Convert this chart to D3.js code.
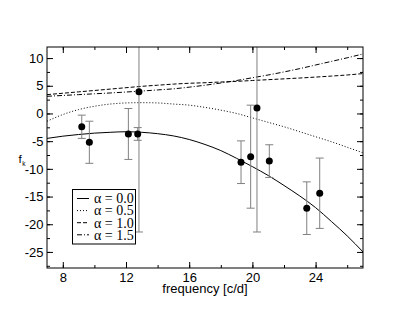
<!DOCTYPE html>
<html>
<head>
<meta charset="utf-8">
<script src="https://cdn.jsdelivr.net/npm/d3@7"></script>
<style>
  body { margin: 0; background: #fff; }
  svg { display: block; }
</style>
</head>
<body>
<svg width="409" height="316"></svg>
<script>
// measured points
const freq = [9.2, 9.68, 12.15, 12.74, 12.82, 19.28, 19.89, 20.29, 21.07, 23.44, 24.26];
const fk   = [-2.4, -5.2, -3.7, -3.7, 3.9, -8.8, -7.8, 1.0, -8.6, -17.1, -14.4];
const errs = [2.1, 3.8, 4.6, 1.15, 25.3, 3.85, 9.3, 22.4, 2.95, 4.75, 6.35];

// model curves
const modelFreq = [7, 8, 9, 10, 11, 12, 13, 14, 15, 16, 17, 18, 19, 20, 21, 22, 23, 24, 25, 26, 27];
const alpha00 = [-4.5, -4.1, -3.8, -3.55, -3.4, -3.3, -3.4, -3.65, -4.05, -4.7, -5.6, -6.7, -8.1, -9.6, -11.2, -13.0, -14.9, -17.0, -19.5, -22.1, -25.0];
const alpha05 = [-1.4, -0.2, 0.7, 1.3, 1.7, 1.9, 1.95, 1.9, 1.7, 1.5, 1.1, 0.6, 0.0, -0.8, -1.6, -2.4, -3.3, -4.2, -5.1, -6.1, -7.1];
const alpha10 = [3.4, 3.65, 3.9, 4.15, 4.4, 4.65, 4.9, 5.1, 5.3, 5.45, 5.55, 5.68, 5.8, 5.95, 6.1, 6.25, 6.4, 6.57, 6.75, 6.95, 7.2];
const alpha15 = [3.1, 3.25, 3.4, 3.55, 3.7, 3.87, 4.05, 4.25, 4.45, 4.75, 5.1, 5.5, 5.95, 6.45, 6.95, 7.5, 8.1, 8.75, 9.4, 10.05, 10.75];

const legendLabels = ["α = 0.0", "α = 0.5", "α = 1.0", "α = 1.5"];
const dashes = [null, "1,2", "4,2", "5,2,1,2"];
const curves = [alpha00, alpha05, alpha10, alpha15];

const xTicks = [8, 12, 16, 20, 24];
const yTicks = [10, 5, 0, -5, -10, -15, -20, -25];

const svg = d3.select("svg");
const m = {left: 47, top: 47, right: 363, bottom: 268};

const x = d3.scaleLinear([7, 27], [m.left, m.right]);
const y = d3.scaleLinear([-27.9, 12], [m.bottom, m.top]);
const fmt = d => String(d).replace("\u2212", "-");
const sans = "Liberation Sans, Arial, sans-serif";

svg.append("clipPath").attr("id", "plotClip")
  .append("rect").attr("x", m.left).attr("y", m.top).attr("width", m.right - m.left).attr("height", m.bottom - m.top);

//Axes: ticks point inward, labels outside
const tickStyle = g => {
  g.select(".domain").remove();
  g.selectAll("line").attr("stroke", "#000").attr("stroke-width", 1);
};
const labelStyle = g => g.selectAll("text").attr("font-family", sans).attr("font-size", 13).attr("fill", "#000");

const xMinor = d3.range(8, 27, 2);
const yMinor = d3.range(-27.5, 12, 2.5);

svg.append("g").attr("transform", `translate(0,${m.bottom})`)
  .call(d3.axisBottom(x).tickValues(xMinor).tickSize(-3).tickFormat(""))
  .call(tickStyle);
svg.append("g").attr("transform", `translate(0,${m.bottom})`)
  .call(d3.axisBottom(x).tickValues(xTicks).tickSize(-6).tickPadding(5).tickFormat(fmt))
  .call(tickStyle)
  .call(labelStyle);
svg.append("g").attr("transform", `translate(0,${m.top})`)
  .call(d3.axisTop(x).tickValues(xMinor).tickSize(-3).tickFormat(""))
  .call(tickStyle);
svg.append("g").attr("transform", `translate(0,${m.top})`)
  .call(d3.axisTop(x).tickValues(xTicks).tickSize(-6).tickFormat(""))
  .call(tickStyle);

svg.append("g").attr("transform", `translate(${m.left},0)`)
  .call(d3.axisLeft(y).tickValues(yMinor).tickSize(-3).tickFormat(""))
  .call(tickStyle);
svg.append("g").attr("transform", `translate(${m.left},0)`)
  .call(d3.axisLeft(y).tickValues(yTicks).tickSize(-6).tickPadding(3.5).tickFormat(fmt))
  .call(tickStyle)
  .call(labelStyle);
svg.append("g").attr("transform", `translate(${m.right},0)`)
  .call(d3.axisRight(y).tickValues(yMinor).tickSize(-3).tickFormat(""))
  .call(tickStyle);
svg.append("g").attr("transform", `translate(${m.right},0)`)
  .call(d3.axisRight(y).tickValues(yTicks).tickSize(-6).tickFormat(""))
  .call(tickStyle);

//Curves
const plot = svg.append("g").attr("clip-path", "url(#plotClip)");
const line = d3.line((d, i) => x(modelFreq[i]), d => y(d)).curve(d3.curveMonotoneX);
curves.forEach((c, i) => {
  plot.append("path")
    .datum(c)
    .attr("d", line)
    .attr("fill", "none")
    .attr("stroke", "#000")
    .attr("stroke-width", 1)
    .attr("stroke-dasharray", dashes[i]);
});

//Error bars
const pts = freq.map((f, i) => ({f, v: fk[i], e: errs[i]}));
const bars = plot.append("g").attr("stroke", "#808080").attr("stroke-width", 1);
pts.forEach(d => {
  bars.append("line").attr("x1", x(d.f)).attr("x2", x(d.f)).attr("y1", y(d.v + d.e)).attr("y2", y(d.v - d.e));
  bars.append("line").attr("x1", x(d.f) - 4).attr("x2", x(d.f) + 4).attr("y1", y(d.v + d.e)).attr("y2", y(d.v + d.e));
  bars.append("line").attr("x1", x(d.f) - 4).attr("x2", x(d.f) + 4).attr("y1", y(d.v - d.e)).attr("y2", y(d.v - d.e));
});

plot.selectAll("circle")
  .data(pts)
  .enter()
  .append("circle")
  .attr("cx", d => x(d.f))
  .attr("cy", d => y(d.v))
  .attr("r", 3.5)
  .attr("fill", "#000");

//Frame
svg.append("rect")
  .attr("x", m.left).attr("y", m.top).attr("width", m.right - m.left).attr("height", m.bottom - m.top)
  .attr("fill", "none").attr("stroke", "#000").attr("stroke-width", 1);

//Legend
const legend = svg.append("g");
legend.append("rect")
  .attr("x", 72.5).attr("y", 189.5).attr("width", 63).attr("height", 54.5)
  .attr("fill", "#fff").attr("stroke", "#000").attr("stroke-width", 1);
legendLabels.forEach((lab, i) => {
  const ly = 198.5 + i * 12.1;
  legend.append("line")
    .attr("x1", 77).attr("x2", 89).attr("y1", ly).attr("y2", ly)
    .attr("stroke", "#000").attr("stroke-width", 1)
    .attr("stroke-dasharray", dashes[i]);
  legend.append("text")
    .attr("x", 94).attr("y", ly + 4.8)
    .attr("font-family", "Liberation Serif, Times New Roman, serif")
    .attr("font-size", 14)
    .text(lab);
});

//Axis titles
svg.append("text")
  .attr("x", (m.left + m.right) / 2).attr("y", 293)
  .attr("text-anchor", "middle")
  .attr("font-family", sans)
  .attr("font-size", 13)
  .text("frequency [c/d]");

const yl = svg.append("text")
  .attr("x", 18.5).attr("y", 163)
  .attr("font-family", sans)
  .attr("font-size", 11.5);
yl.append("tspan").text("f");
yl.append("tspan").attr("font-size", 6.5).attr("dx", 0.5).attr("dy", 2.5).text("k");
</script>
</body>
</html>
